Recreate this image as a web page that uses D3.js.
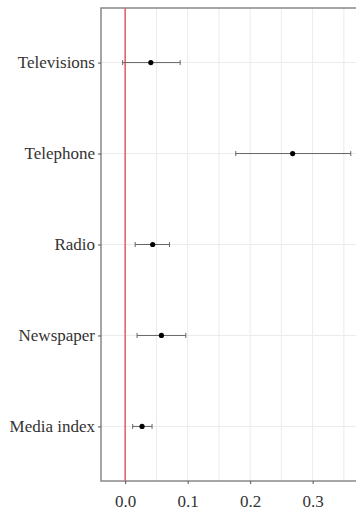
<!DOCTYPE html>
<html>
<head>
<meta charset="utf-8">
<script src="https://cdn.jsdelivr.net/npm/d3@7"></script>
<style>
  body { margin: 0; background: #fff; }
  svg { display: block; }
</style>
</head>
<body>
<div class="chart"></div>
<script>
const categories = [ "Televisions", "Telephone", "Radio", "Newspaper", "Media index" ];
const estimates  = [ 0.041, 0.268, 0.044, 0.058, 0.027 ];
const lower      = [ -0.004, 0.177, 0.016, 0.019, 0.012 ];
const upper      = [ 0.088, 0.361, 0.071, 0.097, 0.043 ];
const xTicks     = [ 0, 0.1, 0.2, 0.3 ];

const width  = 356;
const height = 512;
const margin = { top: 8, right: -2, bottom: 31, left: 101 };
const innerW = width - margin.left - margin.right;
const innerH = height - margin.top - margin.bottom;

const data = categories.map( ( c, i ) => ( { name: c, est: estimates[i], lo: lower[i], hi: upper[i] } ) );

const svg = d3.select( ".chart" )
  .append( "svg" )
    .attr( "width", width )
    .attr( "height", height )
  .append( "g" )
    .attr( "transform", `translate( ${ margin.left }, ${ margin.top } )` );

const xScale = d3.scaleLinear()
  .domain( [ -0.0387, 0.3726 ] )
  .range( [ 0, innerW ] );

const yScale = d3.scalePoint()
  .domain( categories )
  .range( [ 0, innerH ] )
  .padding( 0.6 );

// grid
const minor = d3.range( -0.05, 0.40, 0.05 ).filter( v => xScale( v ) > 0 && xScale( v ) < innerW );
svg.append( "g" )
  .selectAll( "line" )
  .data( minor )
  .enter()
    .append( "line" )
    .attr( "x1", d => xScale( d ) )
    .attr( "x2", d => xScale( d ) )
    .attr( "y1", 0 )
    .attr( "y2", innerH )
    .attr( "stroke", "#ebebeb" )
    .attr( "stroke-width", 1 );

svg.append( "g" )
  .selectAll( "line" )
  .data( categories )
  .enter()
    .append( "line" )
    .attr( "x1", 0 )
    .attr( "x2", innerW )
    .attr( "y1", d => yScale( d ) )
    .attr( "y2", d => yScale( d ) )
    .attr( "stroke", "#ebebeb" )
    .attr( "stroke-width", 1 );

// panel border
svg.append( "rect" )
  .attr( "x", 0 )
  .attr( "y", 0 )
  .attr( "width", innerW )
  .attr( "height", innerH )
  .attr( "fill", "none" )
  .attr( "stroke", "#888" )
  .attr( "stroke-width", 1.5 );

// zero line
svg.append( "line" )
  .attr( "x1", xScale( 0 ) )
  .attr( "x2", xScale( 0 ) )
  .attr( "y1", 0 )
  .attr( "y2", innerH )
  .attr( "stroke", "#e5636d" )
  .attr( "stroke-width", 1.6 );

// axes
const xAxis = svg.append( "g" )
  .attr( "transform", `translate( 0, ${ innerH } )` )
  .call( d3.axisBottom( xScale ).tickValues( xTicks ).tickFormat( d3.format( ".1f" ) ).tickSize( 3 ).tickPadding( 11 ) );

const yAxis = svg.append( "g" )
  .call( d3.axisLeft( yScale ).tickSize( 3 ).tickPadding( 3 ) );

[ xAxis, yAxis ].forEach( ax => {
  ax.attr( "font-family", "Liberation Serif" ).attr( "font-size", 17 );
  ax.select( ".domain" ).remove();
  ax.selectAll( ".tick line" ).attr( "stroke", "#555" );
  ax.selectAll( ".tick text" )
    .attr( "font-family", "Liberation Serif" )
    .attr( "font-size", 17 )
    .attr( "fill", "#333" );
} );

yAxis.selectAll( ".tick text" ).attr( "dy", "0.3em" );

// error bars
const row = svg.selectAll( "g.row" )
  .data( data )
  .enter()
    .append( "g" )
    .attr( "class", "row" )
    .attr( "transform", d => "translate(0," + yScale( d.name ) + ")" );

row.append( "line" )
  .attr( "x1", d => xScale( d.lo ) )
  .attr( "x2", d => xScale( d.hi ) )
  .attr( "stroke", "#666" )
  .attr( "stroke-width", 1 );

row.append( "line" )
  .attr( "x1", d => xScale( d.lo ) )
  .attr( "x2", d => xScale( d.lo ) )
  .attr( "y1", -2.5 )
  .attr( "y2", 2.5 )
  .attr( "stroke", "#666" );

row.append( "line" )
  .attr( "x1", d => xScale( d.hi ) )
  .attr( "x2", d => xScale( d.hi ) )
  .attr( "y1", -2.5 )
  .attr( "y2", 2.5 )
  .attr( "stroke", "#666" );

row.append( "circle" )
  .attr( "cx", d => xScale( d.est ) )
  .attr( "r", 2.6 )
  .attr( "fill", "#000" );
</script>
</body>
</html>
